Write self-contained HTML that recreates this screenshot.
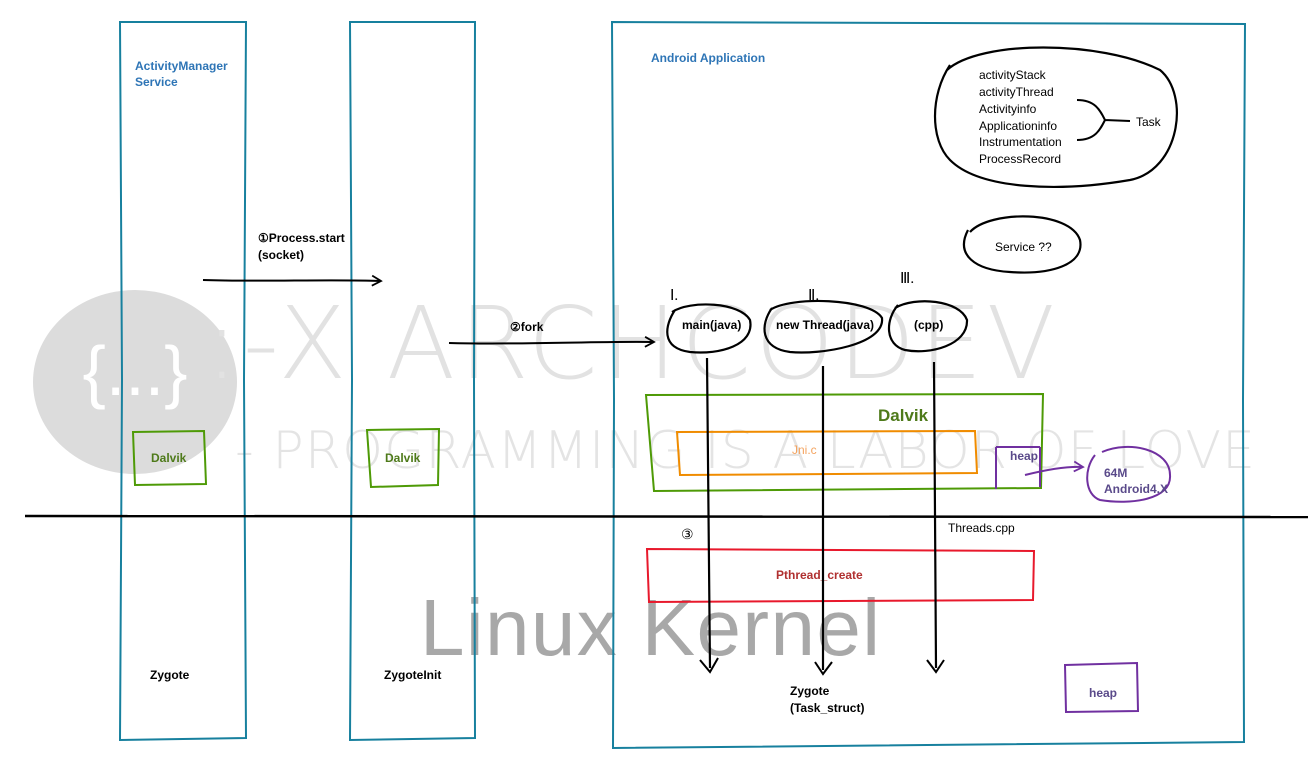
<!DOCTYPE html>
<html><head><meta charset="utf-8"><style>
body{margin:0;background:#fff;}
svg{display:block;font-family:"Liberation Sans",sans-serif;}
</style></head><body>
<svg width="1308" height="767" viewBox="0 0 1308 767" xmlns="http://www.w3.org/2000/svg">
<defs><marker id="ah" markerWidth="12" markerHeight="12" refX="10" refY="6" orient="auto" markerUnits="userSpaceOnUse"><path d="M1,1 L10,6 L1,11" fill="none" stroke="#000" stroke-width="1.8"/></marker>
<marker id="ahp" markerWidth="12" markerHeight="12" refX="10" refY="6" orient="auto" markerUnits="userSpaceOnUse"><path d="M1,1 L10,6 L1,11" fill="none" stroke="#7030a0" stroke-width="1.8"/></marker></defs>
<ellipse cx="135" cy="382" rx="102" ry="92" fill="#dcdcdc"/>
<text x="135" y="395" font-size="70" fill="#fff" text-anchor="middle">{...}</text>
<text x="205" y="378" font-size="100" fill="#e2e2e2" font-weight="200" font-family="'DejaVu Sans',sans-serif" textLength="850">:-X ARCHCODEV</text>
<text x="235" y="468" font-size="52" fill="#e4e4e4" font-weight="200" font-family="'DejaVu Sans',sans-serif" textLength="1020">- PROGRAMMING IS A LABOR OF LOVE</text>
<text x="420" y="655" font-size="80" fill="#a8a8a8" textLength="460">Linux Kernel</text>
<g fill="none" stroke="#17809e" stroke-width="2">
<path d="M120,22 L246,22 L244,380 L246,738 L120,740 L122,380 Z"/>
<path d="M350,22 L475,22 L474,380 L475,738 L350,740 L352,380 Z"/>
<path d="M612,22 L1245,24 L1243,400 L1244,742 L613,748 L614,400 Z"/>
</g>
<text x="135" y="70" font-size="12" font-weight="bold" fill="#2e75b6">ActivityManager</text>
<text x="135" y="86" font-size="12" font-weight="bold" fill="#2e75b6">Service</text>
<text x="651" y="62" font-size="12" font-weight="bold" fill="#2e75b6">Android Application</text>
<path d="M25,516 C300,519 700,514 1308,517" stroke="#000" stroke-width="2.5" fill="none"/>
<g fill="none" stroke="#4e9a06" stroke-width="2">
<path d="M133,432 L204,431 L206,484 L135,485 Z"/>
<path d="M367,430 L439,429 L438,485 L371,487 Z"/>
<path d="M646,395 L1043,394 L1041,488 L654,491 Z"/>
</g>
<text x="151" y="462" font-size="12" font-weight="bold" fill="#4e7a1a">Dalvik</text>
<text x="385" y="462" font-size="12" font-weight="bold" fill="#4e7a1a">Dalvik</text>
<text x="878" y="421" font-size="17" font-weight="bold" fill="#4e7a1a">Dalvik</text>
<path d="M677,432 L975,431 L977,473 L680,475 Z" fill="none" stroke="#f08c00" stroke-width="2"/>
<text x="792" y="454" font-size="12" fill="#f4a460">Jni.c</text>
<path d="M996,447 L1040,447 M996,447 L996,489 M1040,447 L1040,487" fill="none" stroke="#7030a0" stroke-width="2"/>
<text x="1010" y="460" font-size="12" font-weight="bold" fill="#5a4a8a">heap</text>
<path d="M1025,475 C1045,470 1065,466 1083,467" fill="none" stroke="#7030a0" stroke-width="2" marker-end="url(#ahp)"/>
<path d="M1102,452 C1130,440 1170,450 1170,475 C1172,500 1130,505 1100,500 C1085,495 1083,470 1095,455" fill="none" stroke="#7030a0" stroke-width="2"/>
<text x="1104" y="477" font-size="12" font-weight="bold" fill="#5a4a8a">64M</text>
<text x="1104" y="493" font-size="12" font-weight="bold" fill="#5a4a8a">Android4.X</text>
<path d="M647,549 L1034,551 L1033,600 L649,602 Z" fill="none" stroke="#e8192c" stroke-width="2"/>
<text x="776" y="579" font-size="12" font-weight="bold" fill="#b03030">Pthread_create</text>
<path d="M1065,665 L1137,663 L1138,711 L1066,712 Z" fill="none" stroke="#7030a0" stroke-width="2"/>
<text x="1089" y="697" font-size="12" font-weight="bold" fill="#5a4a8a">heap</text>
<path d="M203,280 C260,282 330,279 381,281" fill="none" stroke="#000" stroke-width="2" marker-end="url(#ah)"/>
<text x="258" y="242" font-size="12" font-weight="bold">①Process.start</text>
<text x="258" y="259" font-size="12" font-weight="bold">(socket)</text>
<path d="M449,343 C520,345 600,341 654,342" fill="none" stroke="#000" stroke-width="2" marker-end="url(#ah)"/>
<text x="510" y="331" font-size="12" font-weight="bold">②fork</text>
<g fill="none" stroke="#000" stroke-width="2.2">
<path d="M672,312 C690,300 740,302 750,320 C755,345 720,355 690,352 C660,348 665,325 675,310"/>
<path d="M770,310 C790,296 870,298 882,318 C885,345 820,355 790,352 C760,348 760,325 772,308"/>
<path d="M895,308 C915,296 960,300 967,320 C968,345 930,355 905,350 C885,345 885,320 898,305"/>
<path d="M947,70 C980,40 1100,40 1160,70 C1190,95 1180,170 1130,180 C1060,192 980,190 950,160 C930,140 930,95 950,65"/>
<path d="M970,232 C990,210 1070,210 1080,240 C1085,265 1050,275 1010,272 C975,270 955,255 968,230"/>
<path d="M707,358 L710,668 M823,366 L823,670 M934,362 L936,668"/>
</g>
<g fill="none" stroke="#000" stroke-width="2"><path d="M700,660 L710,672 L718,658 M815,662 L823,674 L832,662 M927,660 L936,672 L944,660"/>
<path d="M1077,100 C1095,100 1100,110 1105,120 M1077,140 C1095,140 1100,130 1105,120 M1105,120 L1130,121"/></g>
<text x="682" y="329" font-size="12" font-weight="bold">main(java)</text>
<text x="776" y="329" font-size="12" font-weight="bold">new Thread(java)</text>
<text x="914" y="329" font-size="12" font-weight="bold">(cpp)</text>
<text x="670" y="300" font-size="15" font-family="'Liberation Serif',serif">Ⅰ.</text>
<text x="808" y="300" font-size="15" font-family="'Liberation Serif',serif">Ⅱ.</text>
<text x="900" y="283" font-size="15" font-family="'Liberation Serif',serif">Ⅲ.</text>
<g font-size="12"><text x="979" y="79">activityStack</text><text x="979" y="96">activityThread</text><text x="979" y="113">Activityinfo</text><text x="979" y="130">Applicationinfo</text><text x="979" y="146">Instrumentation</text><text x="979" y="163">ProcessRecord</text>
<text x="1136" y="126">Task</text><text x="995" y="251">Service  ??</text>
<text x="948" y="532">Threads.cpp</text>
<text x="681" y="539" font-size="14">③</text></g>
<g font-size="12" font-weight="bold"><text x="150" y="679">Zygote</text><text x="384" y="679">ZygoteInit</text>
<text x="790" y="695">Zygote</text><text x="790" y="712">(Task_struct)</text></g>
</svg>
</body></html>
